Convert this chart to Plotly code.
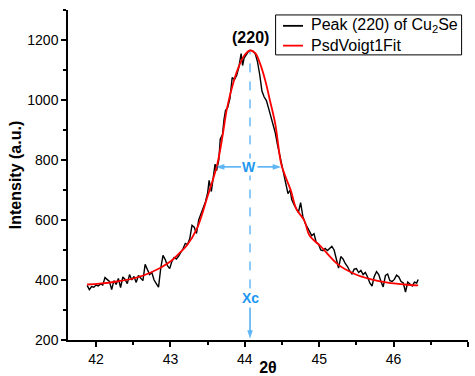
import plotly.graph_objects as go

# Measured data (black, noisy)
data_x = [41.88, 41.91, 41.94, 41.97, 42.00, 42.03, 42.06, 42.09, 42.12, 42.15,
          42.18, 42.21, 42.24, 42.27, 42.30, 42.33, 42.36, 42.39, 42.42, 42.45,
          42.48, 42.51, 42.54, 42.57, 42.60, 42.63, 42.66, 42.69, 42.72, 42.75,
          42.78, 42.81, 42.84, 42.87, 42.90, 42.93, 42.96, 42.99, 43.02, 43.05,
          43.08, 43.11, 43.14, 43.17, 43.20, 43.23, 43.26, 43.29, 43.32, 43.35,
          43.38, 43.41, 43.44, 43.47, 43.50, 43.52, 43.55, 43.58, 43.60, 43.62,
          43.65, 43.67, 43.70, 43.72, 43.74, 43.77, 43.80, 43.83, 43.86, 43.89,
          43.92, 43.95, 43.97, 43.99, 44.02, 44.05, 44.08, 44.11, 44.14, 44.17,
          44.20, 44.23, 44.26, 44.29, 44.32, 44.35, 44.38, 44.41, 44.44, 44.47,
          44.50, 44.53, 44.56, 44.58, 44.61, 44.63, 44.66, 44.69, 44.72, 44.75,
          44.78, 44.81, 44.84, 44.87, 44.90, 44.93, 44.96, 44.99, 45.02, 45.05,
          45.08, 45.11, 45.14, 45.17, 45.20, 45.23, 45.26, 45.29, 45.32, 45.35,
          45.38, 45.41, 45.44, 45.47, 45.50, 45.53, 45.56, 45.59, 45.62, 45.65,
          45.68, 45.71, 45.74, 45.77, 45.80, 45.83, 45.86, 45.89, 45.92, 45.95,
          45.98, 46.01, 46.04, 46.07, 46.10, 46.13, 46.16, 46.19, 46.22, 46.25,
          46.28, 46.31, 46.33]
data_y = [382, 368, 378, 376, 383, 380, 387, 383, 408, 403,
          395, 368, 398, 385, 405, 375, 410, 402, 388, 418,
          400, 412, 392, 415, 405, 398, 452, 432, 418, 425,
          400, 388, 376, 440, 482, 468, 448, 438, 462, 475,
          470, 480, 492, 505, 522, 518, 538, 582, 576, 555,
          600, 622, 645, 660, 690, 732, 695, 745, 786, 765,
          800, 870, 885, 935, 965, 975, 1005, 1075, 1068, 1082,
          1110, 1155, 1115, 1140, 1152, 1162, 1166, 1162, 1154, 1128,
          1085, 1030, 1010, 998, 972, 945, 915, 890, 850, 815,
          785, 750, 712, 688, 700, 668, 652, 640, 625, 658,
          612, 590, 575, 560, 548, 554, 525, 520, 500, 498,
          505, 498, 506, 512, 500, 470, 440, 478, 470, 455,
          445, 430, 420, 436, 438, 425, 432, 418, 425, 410,
          390, 380, 412, 428, 418, 395, 377, 415, 420, 398,
          395, 402, 416, 410, 395, 390, 360, 393, 385, 380,
          393, 390, 402]

# Fitted curve (red)
fit_x = [41.88, 42.05, 42.28, 42.50, 42.73, 43.00, 43.13, 43.22, 43.36, 43.49,
         43.63, 43.71, 43.76, 43.85, 43.93, 44.00, 44.07, 44.14, 44.21, 44.28,
         44.34, 44.41, 44.49, 44.56, 44.62, 44.69, 44.80, 44.87, 45.02, 45.25,
         45.47, 45.70, 45.92, 46.15, 46.33]
fit_y = [385, 388, 395, 405, 424, 462, 492, 515, 574, 672,
         786, 895, 972, 1062, 1118, 1151, 1165, 1156, 1118, 1060,
         996, 919, 786, 736, 697, 638, 598, 548, 512, 452,
         421, 402, 391, 385, 382]

series_names = ["Peak (220) of Cu<sub>2</sub>Se", "PsdVoigt1Fit"]
series_colors = ["black", "#FF0000"]

xc = 44.07
fwhm_left, fwhm_right, half_y = 43.61, 44.49, 777

x_ticks = [42, 43, 44, 45, 46, 47]
y_ticks = [200, 400, 600, 800, 1000, 1200]

blue = "#1E98F2"
font_family = "Liberation Sans, Arial, sans-serif"

fig = go.Figure()
fig.add_trace(go.Scatter(x=data_x, y=data_y, mode="lines",
                         line=dict(color=series_colors[0], width=1.4),
                         name=series_names[0], showlegend=False))
fig.add_trace(go.Scatter(x=fit_x, y=fit_y, mode="lines",
                         line=dict(color=series_colors[1], width=1.8, shape="spline", smoothing=1.0),
                         name=series_names[1], showlegend=False))

# dashed vertical line through peak center
fig.add_shape(type="line", x0=xc, x1=xc, y0=372, y1=1160, xref="x", yref="y",
              line=dict(color=blue, width=1, dash="dash"), layer="below")

# FWHM arrows and Xc arrow (lines with arrow-head markers)
arrow_marker = dict(symbol="arrow", angleref="previous", size=[0, 9], color=blue,
                    line=dict(width=0))
for x0, x1 in [(xc - 0.12, fwhm_left), (xc + 0.10, fwhm_right)]:
    fig.add_trace(go.Scatter(x=[x0, x1], y=[half_y, half_y], mode="lines+markers",
                             line=dict(color=blue, width=1.2), marker=arrow_marker,
                             showlegend=False, hoverinfo="skip"))
fig.add_trace(go.Scatter(x=[xc, xc], y=[308, 204], mode="lines+markers",
                         line=dict(color=blue, width=1.2), marker=arrow_marker,
                         showlegend=False, hoverinfo="skip"))

annotations = [
    dict(x=xc, y=1208, text="<b>(220)</b>", showarrow=False,
         font=dict(size=16, color="black", family=font_family)),
    dict(x=xc - 0.01, y=half_y, text="<b>W</b>", showarrow=False, bgcolor="white",
         font=dict(size=14, color=blue, family=font_family), borderpad=0),
    dict(x=xc, y=340, text="<b>Xc</b>", showarrow=False, bgcolor="white",
         font=dict(size=14, color=blue, family=font_family), borderpad=0),
]

# legend drawn as box + samples + text
leg_left, leg_right, leg_top, leg_bottom = 0.519, 0.984, 0.985, 0.864
row_y = [0.952, 0.892]
fig.add_shape(type="rect", xref="paper", yref="paper", x0=leg_left, x1=leg_right,
              y0=leg_bottom, y1=leg_top, line=dict(color="black", width=1),
              fillcolor="white", layer="above")
for i, (nm, col) in enumerate(zip(series_names, series_colors)):
    fig.add_shape(type="line", xref="paper", yref="paper", x0=0.5375, x1=0.5875,
                  y0=row_y[i], y1=row_y[i], line=dict(color=col, width=1.8), layer="above")
    annotations.append(dict(xref="paper", yref="paper", x=0.6025, y=row_y[i],
                            xanchor="left", yanchor="middle", text=nm, showarrow=False,
                            font=dict(size=16, color="black", family=font_family)))

fig.update_layout(
    width=475, height=376,
    margin=dict(l=68, r=7, t=10, b=36),
    paper_bgcolor="white", plot_bgcolor="white",
    font=dict(family=font_family, size=14, color="black"),
    showlegend=False,
    annotations=annotations,
)
fig.update_xaxes(range=[41.623, 47], tickvals=x_ticks, ticktext=[str(v) for v in x_ticks],
                 showline=True, linecolor="black", linewidth=1.5, mirror=False,
                 ticks="outside", ticklen=5, tickwidth=1.5, tickcolor="black",
                 minor=dict(dtick=0.5, ticks="outside", ticklen=3, tickwidth=1.5, tickcolor="black"),
                 showgrid=False, zeroline=False, automargin=False,
                 title=dict(text="<b>2θ</b>", font=dict(size=16), standoff=7))
fig.update_yaxes(range=[200, 1300], tickvals=y_ticks, ticktext=[str(v) for v in y_ticks],
                 showline=True, linecolor="black", linewidth=1.5, mirror=False,
                 ticks="outside", ticklen=5, tickwidth=1.5, tickcolor="black",
                 minor=dict(dtick=100, tick0=200, ticks="outside", ticklen=3, tickwidth=1.5, tickcolor="black"),
                 showgrid=False, zeroline=False, automargin=False,
                 title=dict(text="<b>Intensity (a.u.)</b>", font=dict(size=16), standoff=2))

fig.write_html("out.html")
